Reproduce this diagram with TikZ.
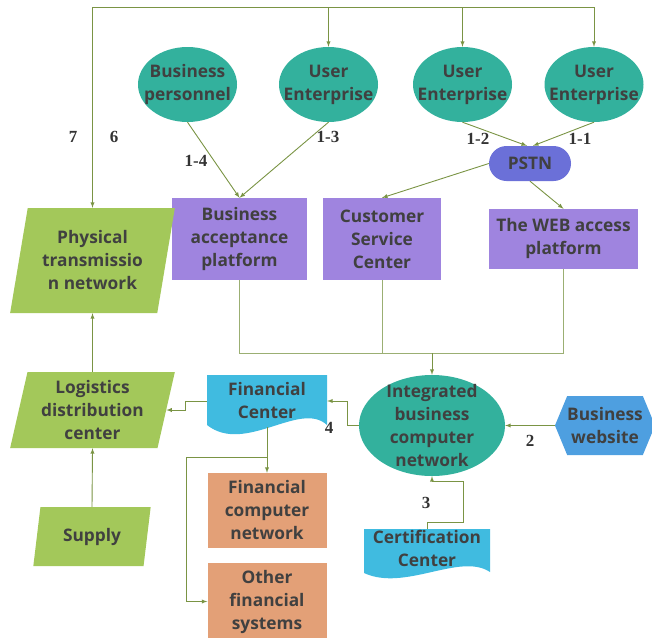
\documentclass[tikz,border=0pt]{standalone}
\usepackage{fontspec}
\setmainfont{Open Sans}
\newfontfamily\numfont{Liberation Serif}
\usetikzlibrary{shapes.geometric, shapes.symbols, arrows}

\definecolor{entgreen}{HTML}{33B19D}
\definecolor{platpurple}{HTML}{9F84DF}
\definecolor{pstnblue}{HTML}{6B70D8}
\definecolor{shipgreen}{HTML}{A3C85A}
\definecolor{docblue}{HTML}{40BBE0}
\definecolor{finorange}{HTML}{E3A077}
\definecolor{webblue}{HTML}{4E9FE0}
\definecolor{linkgreen}{HTML}{7A9444}
\definecolor{inkgray}{HTML}{404040}

\begin{document}
\begin{tikzpicture}[x=1pt, y=-1pt,
    every node/.style={font=\bfseries\fontsize{17.3}{23}\selectfont, text=inkgray, align=center, inner sep=0pt},
    party/.style={ellipse, fill=entgreen, minimum width=99pt, minimum height=75pt, inner sep=-12pt},
    hub/.style={ellipse, fill=entgreen, minimum width=146pt, minimum height=101pt, inner sep=-12pt},
    platform/.style={rectangle, fill=platpurple},
    ledger/.style={trapezium, trapezium left angle=77, trapezium right angle=103,
                   trapezium stretches=true, fill=shipgreen},
    bank/.style={rectangle, fill=finorange, minimum width=119pt},
    numtag/.style={font=\numfont\bfseries\fontsize{17}{17}\selectfont, text=black!80},
    link/.style={draw=linkgreen, line width=0.9pt},
    flow/.style={link, -latex}
]

    \useasboundingbox (0,0) rectangle (652,637);

    % document shapes
    \fill[docblue] (207,375) -- (327,375) -- (327,425)
        .. controls (300,400) and (245,455) .. (207,425) -- cycle;
    \fill[docblue] (364,529) -- (490,529) -- (490,572)
        .. controls (460,552) and (405,592) .. (364,573) -- cycle;

    \node(bp)[party] at (187.5,84.5) {Business\\personnel};
    \node(ue1)[party] at (328.5,84.5) {User\\Enterprise};
    \node(ue2)[party] at (462.5,84.5) {User\\Enterprise};
    \node(ue3)[party] at (594,84.5) {User\\Enterprise};

    \node(pstn)[rectangle, rounded corners=17.5pt, fill=pstnblue, minimum width=82pt, minimum height=35pt] at (530,163.5) {PSTN};

    \node(bap)[platform, minimum width=135pt, minimum height=82pt] at (239.5,239) {Business\\acceptance\\platform};
    \node(csc)[platform, minimum width=118pt, minimum height=82pt] at (382,239) {Customer\\Service\\Center};
    \node(web)[platform, minimum width=149pt, minimum height=60pt] at (563.5,239) {The WEB access\\platform};

    \node(phys)[ledger, minimum width=165pt, minimum height=105pt] at (92.5,260.5) {Physical\\transmissio\\n network};
    \node(logi)[ledger, minimum width=165pt, minimum height=76pt] at (92.5,410) {Logistics\\distribution\\center};
    \node(sup)[ledger, minimum width=118pt, minimum height=59pt] at (92,536.5) {Supply};

    \node(hub)[hub] at (432,425.5) {Integrated\\business\\computer\\network};
    \node(site)[signal, signal to=west and east, signal pointer angle=135, fill=webblue,
                minimum width=94pt, minimum height=59pt] at (605,425.5) {Business\\website};

    \node(fin)[rectangle, minimum width=120pt, minimum height=52pt] at (267,401) {Financial\\Center};
    \node(cert)[rectangle, minimum width=126pt, minimum height=38pt] at (427,548) {Certification\\Center};

    \node(fcn)[bank, minimum height=75pt] at (267,510.5) {Financial\\computer\\network};
    \node(ofs)[bank, minimum height=77pt] at (267,601.5) {Other\\financial\\systems};

    % step numbers
    \node(n7)[numtag] at (73,137) {7};
    \node(n6)[numtag] at (114,137) {6};
    \node(n14)[numtag] at (196,161) {1-4};
    \node(n13)[numtag] at (328,137) {1-3};
    \node(n12)[numtag] at (478,139) {1-2};
    \node(n11)[numtag] at (580,139) {1-1};
    \node(n2)[numtag] at (530,441) {2};
    \node(n3)[numtag] at (426,503) {3};
    \node(n4)[numtag] at (329,428) {4};

    % top bus
    \draw[link] (phys.north |- 0,7) -- (ue3.north |- 0,7);
    \foreach \n in {phys, ue1, ue2, ue3}
        \draw[flow] (\n.north |- 0,7) -- (\n.north);

    \draw (bp.south) edge[flow] (bap.north)
          (ue1.south) edge[flow] (bap.north)
          (ue2.south) edge[flow] ([xshift=-3pt]pstn.north)
          (ue3.south) edge[flow] ([xshift=3pt]pstn.north)
          (pstn.west) edge[flow] (csc.north)
          (pstn.south) edge[flow] (web.north)
          ;

    % platforms into the hub
    \draw[link, draw=linkgreen!75] (bap.south) |- (web.south |- 0,353) -- (web.south);
    \draw[link, draw=linkgreen!75] (csc.south) -- (csc.south |- 0,353);
    \draw[flow] (hub.north |- 0,353) -- (hub.north);

    \draw[flow] (site.west) -- (hub.east);
    \draw[flow] (cert.north) -- ++(0,-6) -| ++(36,-41) -| (hub.south);
    \draw[flow] (hub.west) -- ++(-11,0) |- (fin.east);

    \draw[flow] (fin.west) -- ++(-21,0) |- (logi.east);
    \draw[flow] (fin.south) -- (fcn.north);
    \draw[flow] (fin.south |- 0,457) -- ++(-81,0) |- (ofs.west);

    \draw[flow] (logi.north) -- (phys.south);
    \draw[flow] (sup.north) -- (logi.south);

\end{tikzpicture}
\end{document}
